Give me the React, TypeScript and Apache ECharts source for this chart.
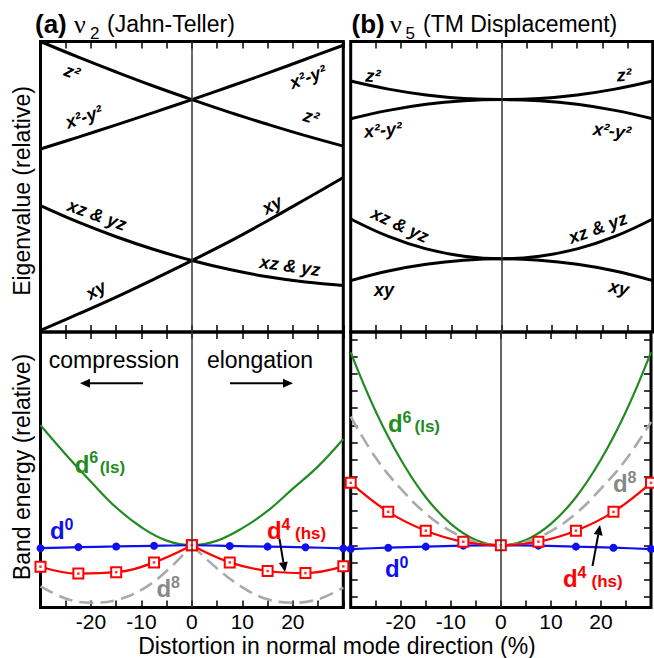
import React, { useEffect, useRef } from 'react';
import * as echarts from 'echarts';

const FONT = '"Liberation Sans", Arial, Helvetica, sans-serif';
const SERIF = '"Liberation Serif", "Times New Roman", serif';

// ---- x positions ----
const X_MARK = [-30, -22.5, -15, -7.5, 0, 7.5, 15, 22.5, 30];
const X_FINE = [-30, -25, -20, -15, -10, -5, 0, 5, 10, 15, 20, 25, 30];
const X_TICKS = [-20, -10, 0, 10, 20];
const X_TICK_LABELS = ['-20', '-10', '0', '10', '20'];

// ---- panel (a) top: eigenvalues (relative, 0..100) ----
const A_Z2 = [100, 94.6, 89.5, 84.6, 80, 75.6, 71.5, 67.6, 64.0];
const A_X2Y2 = [63.0, 67.1, 71.3, 75.6, 80, 84.5, 89.1, 93.9, 98.7];
const A_XZYZ = [43.5, 37.8, 32.8, 28.4, 24.6, 21.5, 19.0, 17.2, 16.0];
const A_XY = [0.6, 6.2, 12.0, 18.2, 24.6, 31.2, 38.3, 45.7, 53.2];

// ---- panel (b) top ----
const B_Z2 = [86.4, 83.6, 81.6, 80.4, 80, 80.4, 81.6, 83.6, 86.4];
const B_X2Y2 = [73.4, 76.3, 78.4, 79.6, 80, 79.6, 78.4, 76.3, 73.4];
const B_XZYZ = [38.9, 32.9, 28.6, 26.1, 25.2, 26.1, 28.6, 32.9, 38.9];
const B_XY = [17.7, 21.0, 23.3, 24.7, 25.2, 24.7, 23.3, 21.0, 17.7];

// ---- panel (a) bottom: band energies ----
const A_D0 = [-0.17, -0.11, -0.07, -0.03, 0, -0.04, -0.08, -0.12, -0.18];
const A_D4 = [-1.25, -1.65, -1.57, -1.0, 0, -1.0, -1.5, -1.62, -1.23];
const A_D6 = [7.0, 5.3, 3.7, 2.2, 1.05, 0.27, 0, 0.27, 1.0, 2.0, 3.3, 4.6, 6.2];
const A_D8 = [-2.4, -3.1, -3.35, -3.2, -2.6, -1.5, 0, -1.35, -2.45, -3.15, -3.35, -3.15, -2.47];

// ---- panel (b) bottom ----
const B_D0 = [-0.22, -0.14, -0.08, -0.02, 0, -0.02, -0.08, -0.14, -0.22];
const B_D4 = [3.64, 1.95, 0.85, 0.21, 0, 0.21, 0.85, 1.95, 3.64];
const B_D6 = [11.25, 7.8, 5.0, 2.8, 1.25, 0.31, 0, 0.31, 1.25, 2.8, 5.0, 7.8, 11.25];
const B_D8 = [7.5, 5.1, 3.3, 1.85, 0.82, 0.2, 0, 0.2, 0.82, 1.85, 3.3, 5.0, 7.2];

const TOP_MIN = 0;
const TOP_MAX = 100;
const BOT_MIN = -3.63;
const BOT_MAX = 12.44;
const BOT_TICKS = [-3, -2, -1, 0, 1, 2, 3, 4, 5, 6, 7, 8, 9, 10, 11, 12];

const GREEN = '#228B22';
const BLUE = '#1010ee';
const RED = '#ff0000';
const GRAY = '#aaaaaa';
const GRAY_TXT = '#888888';

function pairs(xs: number[], ys: number[]) {
  return xs.map((x, i) => [x, ys[i]]);
}

const CENTER_LINE = {
  silent: true,
  symbol: ['none', 'none'],
  label: { show: false },
  lineStyle: { color: '#333', width: 1.5, type: 'solid' },
  data: [{ xAxis: 0 }],
  animation: false,
};

function xAx(gridIndex: number, position: string, labels: boolean) {
  return {
    type: 'value',
    gridIndex,
    position,
    min: -30,
    max: 30,
    interval: 5,
    axisLine: { show: false, onZero: false },
    splitLine: { show: false },
    axisTick: { show: true, inside: true, length: 7, lineStyle: { color: '#000', width: 1.5 } },
    axisLabel: labels
      ? {
          show: true,
          margin: 3,
          color: '#000',
          fontSize: 21,
          lineHeight: 21,
          fontFamily: FONT,
          formatter: (v: number) => {
            const i = X_TICKS.indexOf(Math.round(v));
            return i >= 0 ? X_TICK_LABELS[i] : '';
          },
        }
      : { show: false },
  };
}

function blackLine(xi: number, yi: number, ys: number[], withCenter = false) {
  const s: any = {
    type: 'line',
    xAxisIndex: xi,
    yAxisIndex: yi,
    data: pairs(X_MARK, ys),
    smooth: 0.4,
    symbol: 'none',
    clip: false,
    lineStyle: { color: '#000', width: 3 },
  };
  if (withCenter) s.markLine = CENTER_LINE;
  return s;
}

function txt(x: number, y: number, text: string, o: any = {}) {
  return {
    type: 'text',
    x,
    y,
    rotation: ((o.rot || 0) * Math.PI) / 180,
    silent: true,
    z: 100,
    style: {
      text,
      fill: o.color || '#000',
      fontFamily: o.family || FONT,
      fontSize: o.size || 18,
      fontWeight: o.weight || 'normal',
      fontStyle: o.style || 'normal',
      align: o.align || 'left',
      verticalAlign: 'middle',
    },
  };
}

function lbl(x: number, y: number, text: string, rot: number) {
  return txt(x, y, text, { size: 18, weight: 'bold', style: 'italic', align: 'center', rot });
}

function arrow(x1: number, y1: number, x2: number, y2: number) {
  const dx = x2 - x1;
  const dy = y2 - y1;
  const len = Math.sqrt(dx * dx + dy * dy);
  const ux = dx / len;
  const uy = dy / len;
  const hl = 10;
  const hw = 4.5;
  const bx = x2 - ux * hl;
  const by = y2 - uy * hl;
  return [
    {
      type: 'line',
      silent: true,
      z: 100,
      shape: { x1, y1, x2: bx, y2: by },
      style: { stroke: '#000', lineWidth: 2 },
    },
    {
      type: 'polygon',
      silent: true,
      z: 100,
      shape: {
        points: [
          [x2, y2],
          [bx - uy * hw, by + ux * hw],
          [bx + uy * hw, by - ux * hw],
        ],
      },
      style: { fill: '#000' },
    },
  ];
}

function dLabel(x: number, base: number, sup: string, tail: string, color: string, tailX: number) {
  const out: any[] = [
    txt(x, base - 8, 'd', { size: 24, weight: 'bold', color }),
    txt(x + 14.5, base - 14.5, sup, { size: 16, weight: 'bold', color }),
  ];
  if (tail) out.push(txt(tailX, base - 5, tail, { size: 17, weight: 'bold', color }));
  return out;
}

function buildOption() {
  const gridStyle = { show: true, borderColor: '#000', borderWidth: 3, backgroundColor: 'transparent' };
  const grids = [
    { left: 40.5, top: 41.5, width: 302.8, height: 290.5, ...gridStyle },
    { left: 350.7, top: 41.5, width: 302, height: 290.5, ...gridStyle },
    { left: 40.5, top: 332, width: 302.8, height: 275.5, ...gridStyle },
    { left: 350.7, top: 332, width: 302, height: 275.5, ...gridStyle },
  ];
  const xAxes = [
    xAx(0, 'bottom', false),
    xAx(0, 'top', false),
    xAx(1, 'bottom', false),
    xAx(1, 'top', false),
    xAx(2, 'bottom', true),
    xAx(2, 'top', false),
    xAx(3, 'bottom', true),
    xAx(3, 'top', false),
  ];
  const yTick = {
    show: true,
    inside: true,
    length: 7,
    customValues: BOT_TICKS,
    lineStyle: { color: '#000', width: 1.5 },
  };
  const yAxes = [
    { type: 'value', gridIndex: 0, min: TOP_MIN, max: TOP_MAX, show: false, axisLine: { onZero: false } },
    { type: 'value', gridIndex: 1, min: TOP_MIN, max: TOP_MAX, show: false, axisLine: { onZero: false } },
    { type: 'value', gridIndex: 2, min: BOT_MIN, max: BOT_MAX, show: false, axisLine: { onZero: false } },
    {
      type: 'value', gridIndex: 3, position: 'left', min: BOT_MIN, max: BOT_MAX,
      axisLine: { show: false, onZero: false }, splitLine: { show: false }, axisLabel: { show: false }, axisTick: yTick,
    },
    {
      type: 'value', gridIndex: 3, position: 'right', min: BOT_MIN, max: BOT_MAX,
      axisLine: { show: false, onZero: false }, splitLine: { show: false }, axisLabel: { show: false }, axisTick: yTick,
    },
  ];

  const fineLine = (xi: number, yi: number, xs: number[], ys: number[], color: string, width: number, dashed: boolean) => ({
    type: 'line',
    xAxisIndex: xi,
    yAxisIndex: yi,
    data: pairs(xs, ys),
    smooth: 0.4,
    symbol: 'none',
    clip: false,
    lineStyle: { color, width, type: dashed ? [14, 7] : 'solid' },
  });
  const blueLine = (xi: number, yi: number, ys: number[]) => ({
    type: 'line',
    xAxisIndex: xi,
    yAxisIndex: yi,
    data: pairs(X_MARK, ys),
    smooth: 0.3,
    symbol: 'circle',
    symbolSize: 8,
    clip: false,
    itemStyle: { color: BLUE },
    lineStyle: { color: BLUE, width: 2.2 },
  });
  const redLine = (xi: number, yi: number, xs: number[], ys: number[]) => ({
    type: 'line',
    xAxisIndex: xi,
    yAxisIndex: yi,
    data: pairs(xs, ys),
    smooth: 0.4,
    symbol: 'rect',
    symbolSize: 10,
    clip: false,
    itemStyle: { color: '#ffffff', borderColor: RED, borderWidth: 2 },
    lineStyle: { color: RED, width: 2.2 },
  });
  const redDots = (xi: number, yi: number, ys: number[]) => ({
    type: 'scatter',
    xAxisIndex: xi,
    yAxisIndex: yi,
    data: pairs(X_MARK, ys),
    symbol: 'rect',
    symbolSize: 2.5,
    clip: false,
    itemStyle: { color: RED },
    z: 5,
  });

  const series: any[] = [
    // (a) top
    blackLine(0, 0, A_Z2, true),
    blackLine(0, 0, A_X2Y2),
    blackLine(0, 0, A_XZYZ),
    blackLine(0, 0, A_XY),
    // (b) top
    blackLine(2, 1, B_Z2, true),
    blackLine(2, 1, B_X2Y2),
    blackLine(2, 1, B_XZYZ),
    blackLine(2, 1, B_XY),
    // (a) bottom
    { ...fineLine(4, 2, X_FINE, A_D6, GREEN, 2.2, false), markLine: CENTER_LINE },
    fineLine(4, 2, X_FINE.slice(0, 7), A_D8.slice(0, 7), GRAY, 2.6, true),
    fineLine(4, 2, X_FINE.slice(6), A_D8.slice(6), GRAY, 2.6, true),
    blueLine(4, 2, A_D0),
    redLine(4, 2, X_MARK.slice(0, 5), A_D4.slice(0, 5)),
    redLine(4, 2, X_MARK.slice(4), A_D4.slice(4)),
    redDots(4, 2, A_D4),
    // (b) bottom
    { ...fineLine(6, 3, X_FINE, B_D6, GREEN, 2.2, false), markLine: CENTER_LINE },
    fineLine(6, 3, X_FINE, B_D8, GRAY, 2.6, true),
    blueLine(6, 3, B_D0),
    redLine(6, 3, X_MARK, B_D4),
    redDots(6, 3, B_D4),
  ];

  const graphic: any[] = [
    // titles
    txt(35, 24, '(a)', { size: 26, weight: 'bold' }),
    txt(74, 24, 'ν', { size: 26, family: SERIF }),
    txt(90, 33.5, '2', { size: 17 }),
    txt(107, 24, '(Jahn-Teller)', { size: 23 }),
    txt(351.5, 24, '(b)', { size: 26, weight: 'bold' }),
    txt(390, 24, 'ν', { size: 26, family: SERIF }),
    txt(405.5, 33.5, '5', { size: 17 }),
    txt(423, 24, '(TM Displacement)', { size: 23 }),
    // axis titles
    txt(22, 191, 'Eigenvalue (relative)', { size: 23, align: 'center', rot: 90 }),
    txt(22, 467, 'Band energy (relative)', { size: 23, align: 'center', rot: 90 }),
    txt(337, 645.5, 'Distortion in normal mode direction (%)', { size: 23, align: 'center' }),
    // (a) top orbital labels
    lbl(72, 72, 'z²', -21),
    lbl(84, 117, 'x²-y²', 19),
    lbl(308, 77, 'x²-y²', 20),
    lbl(311, 117, 'z²', -17),
    lbl(97, 215, 'xz & yz', -20),
    lbl(272, 205, 'xy', 29),
    lbl(290, 266, 'xz & yz', -8),
    lbl(96, 290, 'xy', 30),
    // (b) top orbital labels
    lbl(373, 76, 'z²', -4),
    lbl(624, 75, 'z²', 4),
    lbl(383, 130, 'x²-y²', 5),
    lbl(612, 131, 'x²-y²', -7),
    lbl(400, 225, 'xz & yz', -25),
    lbl(598, 228, 'xz & yz', 20),
    lbl(384, 290, 'xy', 0),
    lbl(619, 288, 'xy', -12),
    // (a) bottom texts
    txt(114, 360, 'compression', { size: 23, align: 'center' }),
    txt(260, 360, 'elongation', { size: 23, align: 'center' }),
    ...arrow(143, 383.3, 80, 383.3),
    ...arrow(230, 383.3, 293, 383.3),
    ...dLabel(74.7, 472, '6', '(ls)', GREEN, 99.7),
    ...dLabel(50, 538.5, '0', '', BLUE, 0),
    ...dLabel(267, 538.5, '4', '(hs)', RED, 295),
    ...dLabel(156.5, 596.7, '8', '', GRAY_TXT, 0),
    ...arrow(279.5, 539, 285, 572),
    // (b) bottom texts
    ...dLabel(388, 431.5, '6', '(ls)', GREEN, 414.5),
    ...dLabel(613, 491.7, '8', '', GRAY_TXT, 0),
    ...dLabel(385, 576.7, '0', '', BLUE, 0),
    ...dLabel(563, 586.7, '4', '(hs)', RED, 591.5),
    ...arrow(592.5, 566, 600, 525),
  ];

  return {
    animation: false,
    backgroundColor: '#ffffff',
    grid: grids,
    xAxis: xAxes,
    yAxis: yAxes,
    series,
    graphic,
  };
}

export default function App() {
  const ref = useRef<HTMLDivElement>(null);
  useEffect(() => {
    if (!ref.current) return;
    const chart = echarts.init(ref.current, null, { renderer: 'svg' });
    chart.setOption(buildOption() as any);
    return () => chart.dispose();
  }, []);
  return (
    <div
      ref={ref}
      style={{ position: 'absolute', left: 0, top: 0, width: 654, height: 658, background: '#fff' }}
    />
  );
}
